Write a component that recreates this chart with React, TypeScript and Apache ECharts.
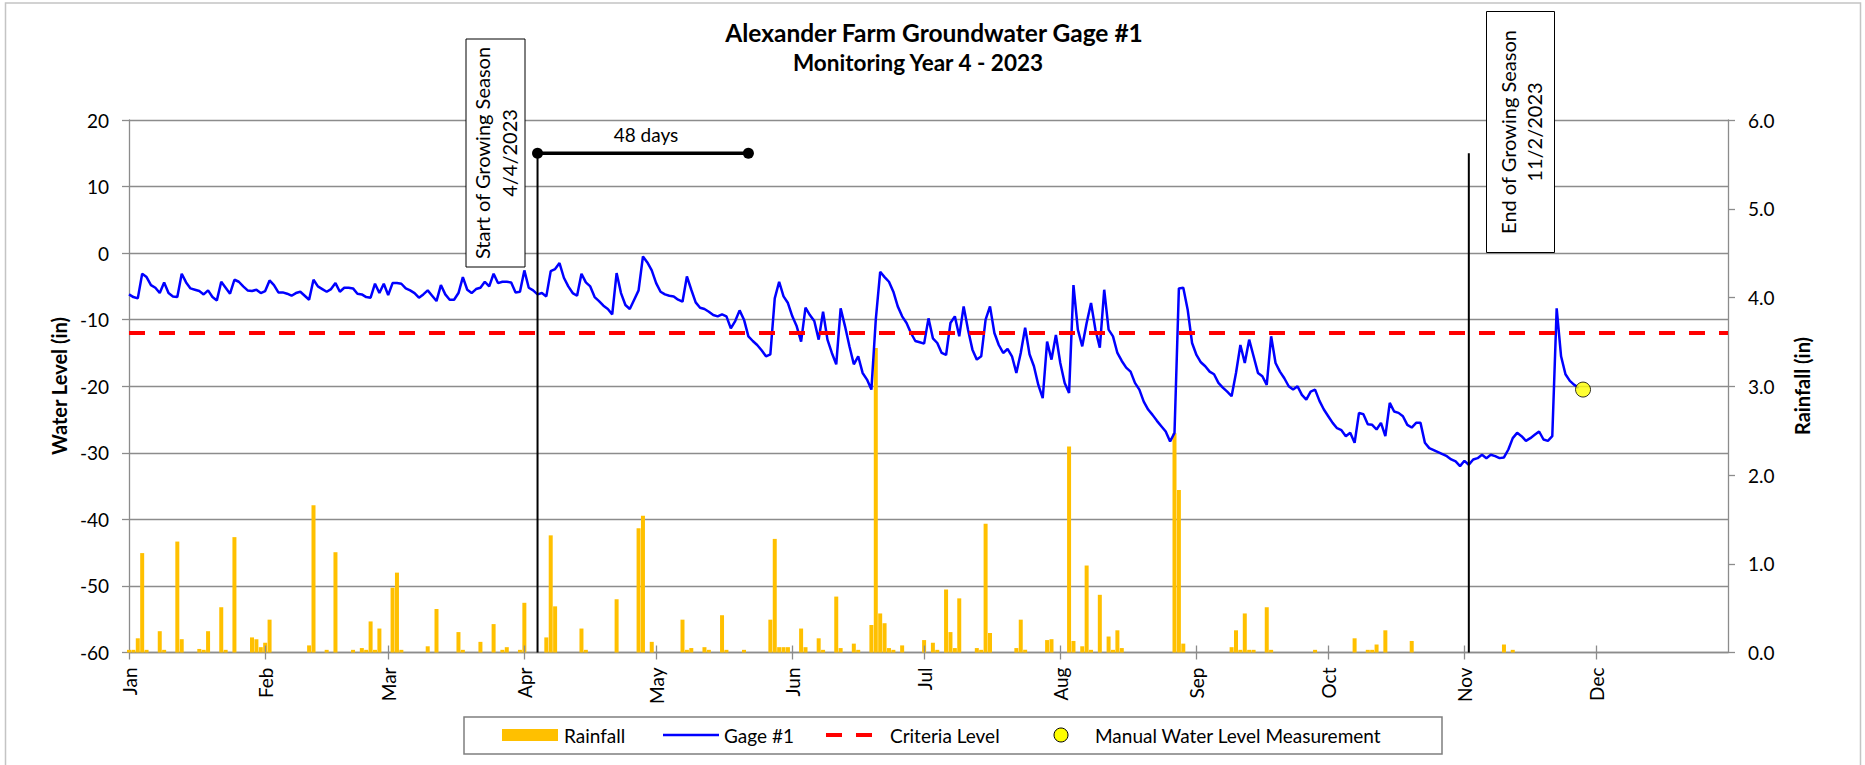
import React, { useEffect, useRef } from "react";
import * as echarts from "echarts";

// ---------- data ----------
const monthStarts = [0, 31, 59, 90, 120, 151, 181, 212, 243, 273, 304, 334];
const monthLabels = ["Jan", "Feb", "Mar", "Apr", "May", "Jun", "Jul", "Aug", "Sep", "Oct", "Nov", "Dec"];

// Gage #1 water level (in), one value per day starting 1 Jan 2023 (index = day of year)
const gageLevel = [
  -6.2, -6.6, -6.8, -3.1, -3.6, -4.8, -5.2, -6.0, -4.4, -6.0,
  -6.5, -6.6, -3.1, -4.4, -5.3, -5.5, -5.7, -6.2, -5.6, -6.6,
  -7.1, -4.3, -5.2, -6.1, -4.0, -4.3, -5.0, -5.6, -5.7, -5.5,
  -6.0, -5.7, -4.1, -4.8, -5.9, -5.9, -6.1, -6.4, -6.0, -5.8,
  -6.4, -7.0, -4.0, -5.0, -5.4, -5.8, -5.4, -4.5, -5.8, -5.2,
  -5.2, -5.3, -6.1, -6.2, -6.6, -6.7, -4.6, -6.0, -4.6, -6.3,
  -4.5, -4.5, -4.6, -5.3, -5.6, -6.0, -6.7, -6.2, -5.6, -6.4,
  -7.2, -4.8, -6.2, -7.0, -7.0, -6.0, -3.6, -5.5, -6.0, -5.4,
  -5.2, -4.3, -5.0, -3.1, -4.5, -4.3, -4.3, -4.4, -5.9, -5.8,
  -2.6, -5.2, -5.6, -6.2, -6.0, -6.5, -2.7, -2.4, -1.5, -3.7,
  -5.0, -6.0, -6.4, -3.1, -4.4, -5.0, -6.6, -7.2, -7.9, -8.4,
  -9.2, -3.0, -6.0, -7.8, -8.4, -7.0, -5.6, -0.5, -1.4, -2.6,
  -4.5, -5.8, -6.2, -6.4, -6.5, -7.0, -7.3, -3.5, -5.5, -7.4,
  -8.2, -8.4, -8.8, -9.3, -9.5, -9.2, -9.5, -11.3, -10.2, -8.6,
  -10.0, -12.5, -13.2, -13.8, -14.6, -15.5, -15.2, -6.8, -4.3, -6.5,
  -7.5, -9.5, -11.0, -13.3, -8.2, -9.3, -10.2, -13.0, -8.8, -13.0,
  -15.0, -16.7, -8.3, -11.0, -14.0, -16.7, -15.5, -18.0, -19.0, -20.5,
  -10.0, -2.8, -3.6, -4.3, -5.8, -8.0, -9.5, -10.5, -12.0, -13.2,
  -13.4, -13.6, -9.8, -12.8, -13.5, -15.0, -15.3, -10.5, -9.5, -12.5,
  -8.0, -11.5, -14.5, -16.0, -15.5, -10.0, -8.0, -12.0, -13.8, -15.0,
  -14.4, -15.5, -18.0, -15.0, -11.2, -15.2, -17.0, -19.8, -21.8, -13.3,
  -16.0, -12.3, -16.5, -19.5, -21.0, -4.8, -11.5, -14.0, -10.5, -7.5,
  -11.5, -14.2, -5.5, -11.5, -12.5, -15.0, -16.2, -17.2, -17.8, -19.5,
  -20.5, -22.3, -23.5, -24.3, -25.2, -26.0, -26.8, -28.3, -27.0, -5.3,
  -5.2, -8.5, -13.5, -15.3, -16.4, -17.0, -17.8, -18.2, -19.5, -20.2,
  -20.8, -21.5, -18.0, -13.8, -16.5, -13.0, -15.5, -18.0, -18.5, -19.8,
  -12.5, -16.5, -17.8, -18.8, -20.0, -20.5, -20.0, -21.3, -22.0, -20.8,
  -20.5, -22.2, -23.5, -24.5, -25.5, -26.3, -26.6, -27.5, -27.0, -28.5,
  -24.0, -24.2, -25.7, -25.8, -26.5, -25.5, -27.5, -22.5, -23.8, -24.0,
  -24.5, -25.8, -26.2, -25.5, -25.5, -28.5, -29.3, -29.6, -29.9, -30.2,
  -30.5, -31.0, -31.3, -32.0, -31.2, -31.8, -31.0, -30.8, -30.3, -30.8,
  -30.3, -30.5, -30.8, -30.7, -29.5, -27.8, -27.0, -27.5, -28.2, -27.8,
  -27.3, -26.8, -28.0, -28.2, -27.5, -8.3, -15.5, -18.2, -19.2, -19.8,
  -20.2,
];

// Daily rainfall (in): day of year and amount
const rainDays = [
  0, 1, 2, 3, 4, 7, 8, 11, 12, 16, 17, 18, 21, 22, 24, 28, 29, 30, 31, 32,
  41, 42, 45, 47, 51, 53, 54, 55, 56, 57, 60, 61, 62, 68, 70, 75, 76, 80, 83, 85,
  86, 89, 90, 95, 96, 97, 103, 104, 111, 116, 117, 119, 126, 127, 128, 131, 132, 135, 136, 140,
  146, 147, 148, 149, 150, 153, 154, 157, 158, 161, 162, 165, 166, 169, 170, 171, 172, 173, 174, 176,
  181, 183, 184, 186, 187, 188, 189, 193, 194, 195, 196, 202, 203, 204, 209, 210, 214, 215, 217, 218,
  219, 221, 223, 224, 225, 226, 238, 239, 240, 251, 252, 253, 254, 255, 256, 259, 260, 270, 279, 282,
  283, 284, 286, 292, 313, 315,
];
const rainInches = [
  0.03, 0.03, 0.16, 1.12, 0.03, 0.24, 0.03, 1.25, 0.15, 0.04, 0.03, 0.24, 0.51, 0.03, 1.3, 0.17, 0.15, 0.06, 0.11, 0.37,
  0.08, 1.66, 0.03, 1.13, 0.03, 0.05, 0.03, 0.35, 0.03, 0.27, 0.73, 0.9, 0.03, 0.07, 0.49, 0.23, 0.03, 0.12, 0.32, 0.03,
  0.06, 0.03, 0.56, 0.17, 1.32, 0.52, 0.27, 0.03, 0.6, 1.4, 1.54, 0.12, 0.37, 0.03, 0.05, 0.06, 0.03, 0.42, 0.03, 0.03,
  0.37, 1.28, 0.06, 0.06, 0.06, 0.27, 0.06, 0.16, 0.03, 0.63, 0.05, 0.1, 0.03, 0.31, 3.43, 0.44, 0.33, 0.05, 0.03, 0.08,
  0.14, 0.11, 0.03, 0.71, 0.23, 0.05, 0.61, 0.05, 0.03, 1.45, 0.22, 0.05, 0.37, 0.03, 0.14, 0.15, 2.32, 0.13, 0.07, 0.98,
  0.03, 0.65, 0.18, 0.03, 0.25, 0.05, 2.47, 1.83, 0.1, 0.06, 0.25, 0.03, 0.44, 0.03, 0.03, 0.51, 0.03, 0.03, 0.16, 0.03,
  0.03, 0.09, 0.25, 0.13, 0.09, 0.03,
];

const criteriaLevel = -12;
const manualDay = [331];
const manualLevel = [-20.5];
const seasonStartDay = 93; // 4/4/2023
const seasonEndDay = 305; // 11/2/2023
const seasonMarkerLevel = 15;
const daysToCriteria = 48;
const yearLastDay = 364;
const waterMin = -60;

const FONT = "Lato, 'Open Sans', sans-serif";
const GRID_COLOR = "#8c8c8c";

export default function App() {
  const ref = useRef<HTMLDivElement>(null);

  useEffect(() => {
    document.body.style.margin = "0";
    const chart = echarts.init(ref.current as HTMLDivElement, null, { renderer: "svg" });

    const tickLine = { color: GRID_COLOR, width: 1.3 };

    const option: any = {
      animation: false,
      backgroundColor: "#ffffff",
      textStyle: { fontFamily: FONT },
      grid: {
        left: 129,
        right: 1865 - 1728,
        top: 120,
        bottom: 765 - 652.5,
        containLabel: false,
        outerBoundsMode: "none",
      },
      xAxis: [
        {
          type: "value",
          min: 0,
          max: yearLastDay,
          position: "bottom",
          axisLine: { show: true, onZero: false, lineStyle: tickLine },
          axisTick: { show: true, length: 7, customValues: monthStarts, lineStyle: tickLine },
          axisLabel: {
            customValues: monthStarts,
            formatter: (v: number) => monthLabels[monthStarts.indexOf(Math.round(v))] || "",
            rotate: 90,
            margin: 15,
            fontFamily: FONT,
            fontSize: 19,
            color: "#000",
          },
          splitLine: { show: false },
        },
      ],
      yAxis: [
        {
          type: "value",
          position: "left",
          min: waterMin,
          max: 20,
          interval: 10,
          axisLine: { show: true, lineStyle: tickLine },
          axisTick: { show: true, length: 7, lineStyle: tickLine },
          axisLabel: { margin: 20, fontFamily: FONT, fontSize: 19, color: "#000" },
          splitLine: { show: true, lineStyle: tickLine },
        },
        {
          type: "value",
          position: "right",
          min: 0,
          max: 6,
          interval: 1,
          axisLine: { show: true, lineStyle: tickLine },
          axisTick: { show: true, length: 7, lineStyle: tickLine },
          axisLabel: {
            margin: 20,
            fontFamily: FONT,
            fontSize: 19,
            color: "#000",
            formatter: (v: number) => v.toFixed(1),
          },
          splitLine: { show: false },
        },
      ],
      series: [
        {
          type: "bar",
          name: "Rainfall",
          xAxisIndex: 0,
          yAxisIndex: 1,
          barWidth: 4,
          itemStyle: { color: "#FFC000" },
          data: rainDays.map((d, i) => [d, rainInches[i]]),
          z: 2,
        },
        {
          type: "line",
          name: "Gage #1",
          xAxisIndex: 0,
          yAxisIndex: 0,
          showSymbol: false,
          symbol: "none",
          lineStyle: { color: "#0000FF", width: 2.5 },
          data: gageLevel.map((v, i) => [i, v]),
          z: 3,
          // inner half of the crossing month tick marks on the date axis
          markLine: {
            silent: true,
            symbol: "none",
            label: { show: false },
            lineStyle: { color: GRID_COLOR, width: 1.3, type: "solid" },
            data: monthStarts
              .filter((d) => d > 0)
              .map((d) => [{ coord: [d, waterMin] }, { coord: [d, waterMin + 1.05] }]),
          },
        },
        {
          type: "line",
          name: "Criteria Level",
          xAxisIndex: 0,
          yAxisIndex: 0,
          showSymbol: false,
          symbol: "none",
          lineStyle: { color: "#FF0000", width: 4, type: [16, 14] },
          data: [
            [0, criteriaLevel],
            [yearLastDay, criteriaLevel],
          ],
          z: 4,
        },
        {
          type: "line",
          name: "Start of Growing Season",
          showSymbol: false,
          symbol: "none",
          lineStyle: { color: "#000", width: 2 },
          data: [
            [seasonStartDay, seasonMarkerLevel],
            [seasonStartDay, waterMin],
          ],
          z: 5,
        },
        {
          type: "line",
          name: "End of Growing Season",
          showSymbol: false,
          symbol: "none",
          lineStyle: { color: "#000", width: 2 },
          data: [
            [seasonEndDay, seasonMarkerLevel],
            [seasonEndDay, waterMin],
          ],
          z: 5,
        },
        {
          type: "line",
          name: "48 days",
          showSymbol: true,
          symbol: "circle",
          symbolSize: 11,
          itemStyle: { color: "#000" },
          lineStyle: { color: "#000", width: 3.5 },
          data: [
            [seasonStartDay, seasonMarkerLevel],
            [seasonStartDay + daysToCriteria, seasonMarkerLevel],
          ],
          z: 5,
        },
        {
          type: "scatter",
          name: "Manual Water Level Measurement",
          symbol: "circle",
          symbolSize: 15,
          itemStyle: { color: "#FFFF00", borderColor: "#000", borderWidth: 1 },
          data: manualDay.map((d, i) => [d, manualLevel[i]]),
          z: 6,
        },
      ],
      graphic: [
        {
          type: "rect",
          silent: true,
          z: -10,
          shape: { x: 5.5, y: 3, width: 1855, height: 790 },
          style: { fill: "none", stroke: "#c4c4c4", lineWidth: 1.5 },
        },
        {
          type: "text",
          x: 934,
          y: 32,
          style: {
            text: "Alexander Farm Groundwater Gage #1",
            font: `bold 24.5px ${FONT}`,
            fill: "#000",
            align: "center",
            verticalAlign: "middle",
          },
        },
        {
          type: "text",
          x: 918,
          y: 62,
          style: {
            text: "Monitoring Year 4 - 2023",
            font: `bold 22.5px ${FONT}`,
            fill: "#000",
            align: "center",
            verticalAlign: "middle",
          },
        },
        {
          type: "text",
          x: 59,
          y: 386,
          rotation: Math.PI / 2,
          style: {
            text: "Water Level (in)",
            font: `bold 20px ${FONT}`,
            fill: "#000",
            align: "center",
            verticalAlign: "middle",
          },
        },
        {
          type: "text",
          x: 1802,
          y: 386,
          rotation: Math.PI / 2,
          style: {
            text: "Rainfall (in)",
            font: `bold 20px ${FONT}`,
            fill: "#000",
            align: "center",
            verticalAlign: "middle",
          },
        },
        {
          type: "rect",
          z: 50,
          shape: { x: 466, y: 39, width: 59, height: 228 },
          style: { fill: "#fff", stroke: "#000", lineWidth: 1 },
        },
        {
          type: "text",
          z: 51,
          x: 495.5,
          y: 153,
          rotation: Math.PI / 2,
          style: {
            text: "Start of Growing Season\n4/4/2023",
            font: `20px ${FONT}`,
            fill: "#000",
            align: "center",
            verticalAlign: "middle",
            lineHeight: 27,
          },
        },
        {
          type: "rect",
          z: 50,
          shape: { x: 1486.5, y: 11.5, width: 68, height: 241 },
          style: { fill: "#fff", stroke: "#000", lineWidth: 1 },
        },
        {
          type: "text",
          z: 51,
          x: 1521,
          y: 132,
          rotation: Math.PI / 2,
          style: {
            text: "End of Growing Season\n11/2/2023",
            font: `20px ${FONT}`,
            fill: "#000",
            align: "center",
            verticalAlign: "middle",
            lineHeight: 26,
          },
        },
        {
          type: "text",
          z: 51,
          x: 646,
          y: 134,
          style: {
            text: "48 days",
            font: `19px ${FONT}`,
            fill: "#000",
            align: "center",
            verticalAlign: "middle",
          },
        },
        // legend
        {
          type: "rect",
          z: 40,
          shape: { x: 464, y: 717, width: 978, height: 37 },
          style: { fill: "#fff", stroke: "#7f7f7f", lineWidth: 1.5 },
        },
        {
          type: "rect",
          z: 41,
          shape: { x: 502, y: 729, width: 56, height: 12 },
          style: { fill: "#FFC000" },
        },
        {
          type: "text",
          z: 41,
          x: 564,
          y: 735,
          style: { text: "Rainfall", font: `19px ${FONT}`, fill: "#000", align: "left", verticalAlign: "middle" },
        },
        {
          type: "line",
          z: 41,
          shape: { x1: 663, y1: 735, x2: 719, y2: 735 },
          style: { stroke: "#0000FF", lineWidth: 2.5 },
        },
        {
          type: "text",
          z: 41,
          x: 724,
          y: 735,
          style: { text: "Gage #1", font: `19px ${FONT}`, fill: "#000", align: "left", verticalAlign: "middle" },
        },
        {
          type: "line",
          z: 41,
          shape: { x1: 826, y1: 735, x2: 873, y2: 735 },
          style: { stroke: "#FF0000", lineWidth: 4, lineDash: [16, 14] },
        },
        {
          type: "text",
          z: 41,
          x: 890,
          y: 735,
          style: { text: "Criteria Level", font: `19px ${FONT}`, fill: "#000", align: "left", verticalAlign: "middle" },
        },
        {
          type: "circle",
          z: 41,
          shape: { cx: 1061, cy: 735, r: 7 },
          style: { fill: "#FFFF00", stroke: "#000", lineWidth: 1 },
        },
        {
          type: "text",
          z: 41,
          x: 1095,
          y: 735,
          style: {
            text: "Manual Water Level Measurement",
            font: `19px ${FONT}`,
            fill: "#000",
            align: "left",
            verticalAlign: "middle",
          },
        },
      ],
    };

    chart.setOption(option);
    return () => chart.dispose();
  }, []);

  return <div ref={ref} style={{ width: 1865, height: 765 }} />;
}
